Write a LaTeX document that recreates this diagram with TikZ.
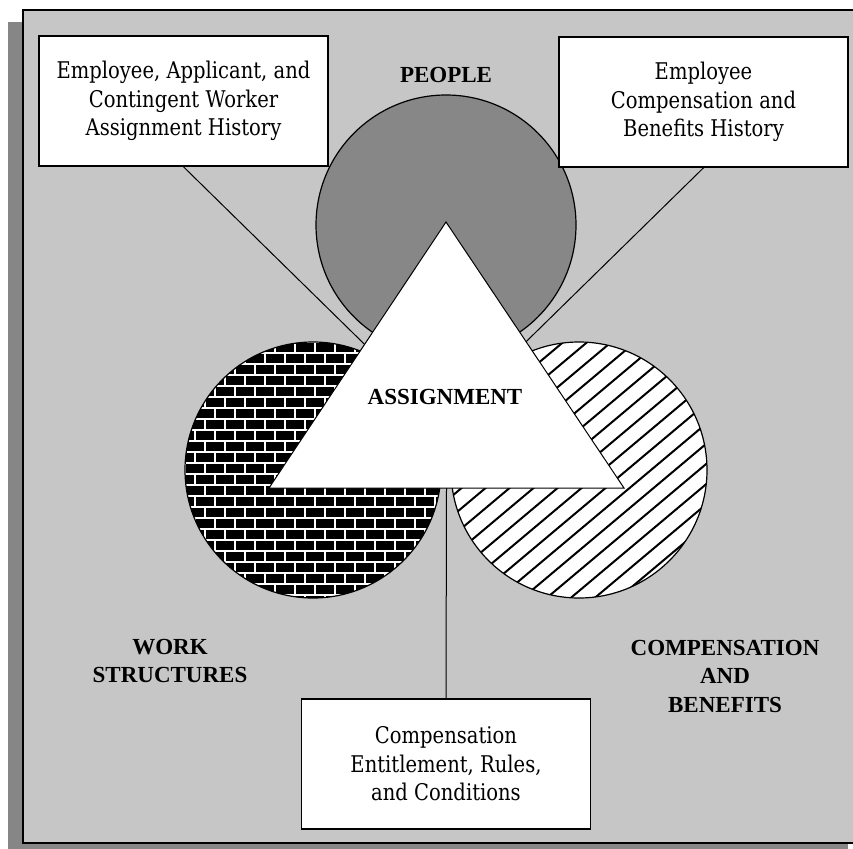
\documentclass[tikz,border=0pt]{standalone}
\usepackage{fontspec}
\setmainfont{Liberation Serif}
\newfontfamily\boxfont{DejaVu Serif}[FakeStretch=0.85]
\usetikzlibrary{calc}
\definecolor{panelgray}{RGB}{198,198,198}
\definecolor{shadowgray}{RGB}{134,134,134}
\definecolor{peoplegray}{RGB}{135,135,135}
\tikzset{
  infobox/.style={draw=black, line width=1.6pt, fill=white, minimum width=289pt, minimum height=130pt, inner sep=0pt, align=center, font=\boxfont\fontsize{23}{28.5}\selectfont},
  biglabel/.style={font=\bfseries\fontsize{23}{28.5}\selectfont, align=center, inner sep=0pt},
  connector/.style={draw=black, line width=1pt},
  outline/.style={draw=black, line width=1.2pt},
  mortar/.style={white, line width=2pt},
  hatchline/.style={black, line width=2pt},
}
\begin{document}
\begin{tikzpicture}[x=1pt,y=-1pt]
\useasboundingbox (0,0) rectangle (853,848);
\clip (0,0) rectangle (853,848);
% shadow and panel
\fill[shadowgray] (8,22) rectangle (848,860);
\fill[panelgray] (23,10) rectangle (870,843);
\draw[black, line width=2pt] (23,10) rectangle (870,843);
% people circle
\fill[peoplegray] (446,225) circle[radius=130pt];
\draw[outline] (446,225) circle[radius=130pt];
% brick circle
\begin{scope}
  \clip (313,470) circle[radius=128pt];
  \fill[black] (185,342) rectangle (441,598);
  \foreach \r in {0,...,24}{
    \pgfmathsetmacro\yy{342+11*\r}
    \pgfmathsetmacro\off{mod(\r,2)*10}
    \draw[mortar] (185,\yy) -- (441,\yy);
    \foreach \c in {0,...,13}{
      \draw[mortar] ({175+\off+20*\c},\yy) -- ({175+\off+20*\c},{\yy+11});
    }
  }
\end{scope}
\draw[outline] (313,470) circle[radius=128pt];
% hatch circle
\begin{scope}
  \clip (579,470) circle[radius=128pt];
  \fill[white] (451,342) rectangle (707,598);
  \foreach \k in {-14,...,14}{
    \draw[hatchline] ({579+24*\k-300},{470+252}) -- ({579+24*\k+300},{470-252});
  }
\end{scope}
\draw[outline] (579,470) circle[radius=128pt];
% triangle coordinates
\coordinate (apex) at (446,222);
\coordinate (bl) at (269,488);
\coordinate (br) at (624,488);
\coordinate (tl) at ($(apex)!0.46!(bl)$);
\coordinate (tr) at ($(apex)!0.45!(br)$);
\coordinate (tb) at ($(bl)!0.5!(br)$);
% boxes
\node[infobox] (histA) at (183.5,101) {Employee, Applicant, and\\Contingent Worker\\Assignment History};
\node[infobox] (histB) at (703.5,102) {Employee\\Compensation and\\Benefits History};
\node[infobox] (entitle) at (446,764) {Compensation\\Entitlement, Rules,\\and Conditions};
% connectors
\draw[connector] (histA.south) -- (tl);
\draw[connector] (histB.south) -- (tr);
\draw[connector] (tb) -- (entitle.north);
% triangle
\filldraw[fill=white, draw=black, line width=1pt] (apex) -- (bl) -- (br) -- cycle;
% labels
\node[biglabel] (people) at (446,75) {PEOPLE};
\node[biglabel] (assign) at (445,397) {ASSIGNMENT};
\node[biglabel] (work) at (170,661) {WORK\\STRUCTURES};
\node[biglabel] (comp) at (725,676) {COMPENSATION\\AND\\BENEFITS};
\end{tikzpicture}
\end{document}
